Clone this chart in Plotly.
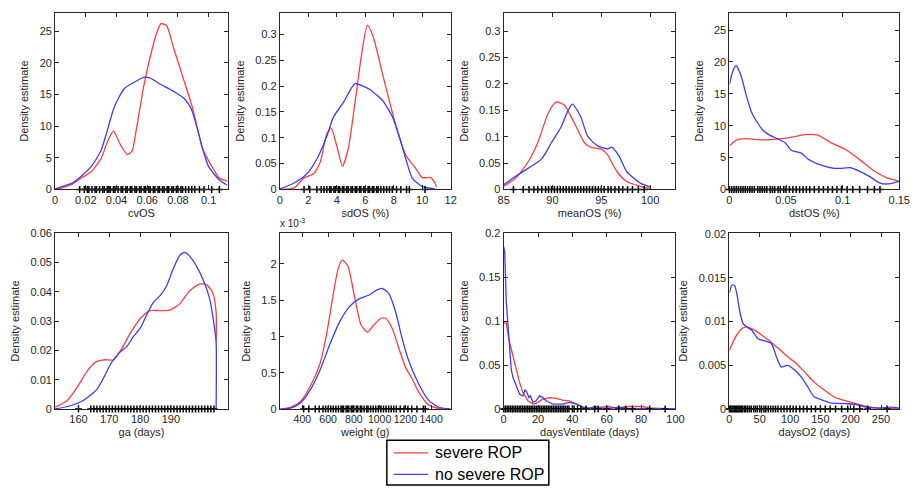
import plotly.graph_objects as go

# ---------------- data ----------------
# cvOS
cvos_sev_x = [0.000, 0.005, 0.011, 0.017, 0.0235, 0.030, 0.034, 0.038, 0.0427, 0.047, 0.050, 0.053, 0.0577, 0.062, 0.066, 0.069, 0.0726, 0.077, 0.083, 0.0897, 0.096, 0.1026, 0.107, 0.112]
cvos_sev_y = [0.0, 0.3, 0.8, 1.8, 2.8, 4.9, 7.5, 9.2, 7.0, 5.5, 6.0, 9.6, 16.3, 21.0, 24.6, 26.2, 25.9, 22.5, 17.9, 12.7, 6.5, 3.4, 1.8, 1.3]
cvos_no_x = [0.000, 0.005, 0.011, 0.017, 0.0235, 0.030, 0.034, 0.0385, 0.045, 0.0534, 0.0577, 0.062, 0.068, 0.077, 0.0844, 0.0887, 0.093, 0.096, 0.100, 0.107, 0.112]
cvos_no_y = [0.1, 0.5, 1.0, 2.1, 3.6, 6.2, 9.3, 13.0, 15.9, 17.2, 17.7, 17.6, 16.7, 15.5, 14.3, 12.7, 9.3, 6.5, 3.6, 1.5, 0.7]
cvos_obs = [0.016, 0.019, 0.021, 0.022, 0.024, 0.026, 0.027, 0.029, 0.031, 0.032, 0.034, 0.035, 0.036, 0.038, 0.039, 0.041, 0.043, 0.044, 0.046, 0.047, 0.049, 0.050, 0.052, 0.053, 0.055, 0.056, 0.058, 0.059, 0.061, 0.062, 0.064, 0.065, 0.067, 0.068, 0.070, 0.071, 0.073, 0.074, 0.076, 0.077, 0.079, 0.080, 0.082, 0.083, 0.085, 0.087, 0.089, 0.091, 0.094, 0.097, 0.102, 0.107]

# sdOS (%)
sdos_sev_x = [0, 1.0, 1.69, 2.38, 2.84, 3.3, 3.6, 4.0, 4.4, 4.8, 5.27, 5.73, 6.15, 6.54, 7.23, 7.92, 8.38, 8.85, 9.54, 10.0, 10.6, 10.9, 11.0]
sdos_sev_y = [0, 0.003, 0.022, 0.031, 0.053, 0.108, 0.119, 0.084, 0.045, 0.078, 0.166, 0.259, 0.318, 0.297, 0.222, 0.147, 0.103, 0.066, 0.041, 0.023, 0.023, 0.0125, 0.005]
sdos_no_x = [0, 1.0, 1.92, 2.6, 3.3, 3.76, 4.46, 5.27, 5.84, 6.3, 7.23, 7.92, 8.38, 8.85, 9.3, 10.0, 10.9]
sdos_no_y = [0.001, 0.0125, 0.031, 0.059, 0.103, 0.14, 0.168, 0.205, 0.200, 0.194, 0.172, 0.14, 0.103, 0.059, 0.022, 0.006, 0.001]
sdos_obs = [1.7, 2.1, 2.6, 2.9, 3.1, 3.3, 3.5, 3.6, 3.8, 3.9, 4.1, 4.2, 4.4, 4.5, 4.7, 4.8, 5.0, 5.1, 5.3, 5.4, 5.6, 5.7, 5.9, 6.0, 6.2, 6.3, 6.5, 6.6, 6.8, 6.9, 7.1, 7.3, 7.5, 7.7, 7.9, 8.2, 8.5, 8.9, 9.1, 10.2]

# meanOS (%)
meanos_sev_x = [85, 86.2, 87.5, 88.5, 89.55, 90.4, 91.2, 92.25, 93.26, 93.9, 94.95, 95.6, 96.6, 97.6, 99, 100]
meanos_sev_y = [0.006, 0.021, 0.052, 0.089, 0.144, 0.166, 0.160, 0.126, 0.089, 0.080, 0.077, 0.067, 0.034, 0.015, 0.006, 0.002]
meanos_no_x = [85, 86.2, 87.5, 88.9, 89.9, 90.9, 91.6, 92.05, 92.9, 93.6, 94.6, 95.6, 96.1, 96.8, 97.6, 99.0, 100]
meanos_no_y = [0.009, 0.0245, 0.040, 0.058, 0.089, 0.119, 0.150, 0.162, 0.138, 0.101, 0.083, 0.077, 0.080, 0.064, 0.034, 0.012, 0.005]
meanos_obs = [86.0, 87.0, 87.6, 88.1, 88.5, 88.9, 89.3, 89.6, 89.9, 90.2, 90.5, 90.8, 91.1, 91.4, 91.7, 92.0, 92.3, 92.6, 92.9, 93.2, 93.5, 93.8, 94.1, 94.4, 94.7, 95.0, 95.3, 95.7, 96.0, 96.4, 96.8, 97.2, 97.7, 98.2, 98.8, 99.4]

# dstOS (%)
dstos_sev_x = [0, 0.0058, 0.0145, 0.029, 0.040, 0.052, 0.0665, 0.078, 0.0896, 0.104, 0.1156, 0.127, 0.139, 0.150]
dstos_sev_y = [6.85, 7.7, 7.96, 7.76, 7.86, 8.1, 8.6, 8.5, 7.35, 6.1, 4.6, 3.0, 1.8, 1.27]
dstos_no_x = [0, 0.0029, 0.0058, 0.010, 0.0145, 0.020, 0.029, 0.0347, 0.043, 0.049, 0.055, 0.0636, 0.069, 0.081, 0.0925, 0.098, 0.107, 0.1156, 0.124, 0.133, 0.140, 0.150]
dstos_no_y = [16.5, 18.5, 19.4, 18.0, 15.0, 11.9, 9.4, 8.6, 7.9, 7.35, 6.1, 5.7, 4.8, 3.8, 3.3, 3.3, 3.4, 2.8, 2.0, 1.0, 0.86, 1.27]
dstos_obs = [0.0, 0.002, 0.004, 0.006, 0.008, 0.010, 0.012, 0.014, 0.016, 0.018, 0.020, 0.022, 0.025, 0.027, 0.029, 0.031, 0.033, 0.036, 0.038, 0.040, 0.043, 0.045, 0.048, 0.050, 0.053, 0.056, 0.059, 0.062, 0.065, 0.068, 0.071, 0.075, 0.079, 0.083, 0.087, 0.091, 0.095, 0.099, 0.104, 0.109, 0.115, 0.122, 0.128, 0.133]

# ga (days)
ga_sev_x = [152.4, 156.3, 159.5, 162.8, 165.5, 168.2, 171.4, 173.5, 176.8, 180.0, 183.2, 186.5, 189.7, 192.9, 196.1, 199.4, 201.5, 203.6, 204.7, 204.7]
ga_sev_y = [0.0006, 0.0028, 0.0073, 0.0129, 0.016, 0.0168, 0.0168, 0.0196, 0.0258, 0.0308, 0.0336, 0.0336, 0.0338, 0.0359, 0.0404, 0.0427, 0.0425, 0.0398, 0.033, 0.023]
ga_no_x = [152.4, 157.4, 161.7, 166.0, 168.2, 170.3, 173.0, 175.7, 177.8, 180.0, 182.1, 184.3, 186.5, 188.6, 190.7, 192.9, 194.5, 196.1, 198.3, 200.4, 202.6, 204.2, 204.7, 204.7]
ga_no_y = [0.0, 0.0011, 0.003, 0.0067, 0.0107, 0.0151, 0.019, 0.0213, 0.0247, 0.0275, 0.032, 0.0364, 0.0387, 0.042, 0.0477, 0.0525, 0.0535, 0.0522, 0.0488, 0.0443, 0.0376, 0.0275, 0.023, 0.0]
ga_obs = [160, 164, 165, 166, 167, 168, 169, 170, 171, 172, 173, 174, 175, 176, 177, 178, 179, 180, 181, 182, 183, 184, 185, 186, 187, 188, 189, 190, 191, 192, 193, 194, 195, 196, 197, 198, 199, 200, 201, 202, 203, 204]

# weight (g)
weight_sev_x = [230, 307, 383, 460, 536, 587, 638, 676, 710, 753, 804, 856, 906, 957, 1009, 1047, 1098, 1149, 1200, 1251, 1302, 1378, 1455, 1550]
weight_sev_y = [0, 0.022e-3, 0.10e-3, 0.31e-3, 0.62e-3, 1.02e-3, 1.56e-3, 1.92e-3, 2.05e-3, 1.97e-3, 1.56e-3, 1.16e-3, 1.06e-3, 1.16e-3, 1.25e-3, 1.25e-3, 1.11e-3, 0.84e-3, 0.58e-3, 0.42e-3, 0.24e-3, 0.06e-3, 0.01e-3, 0]
weight_no_x = [230, 307, 383, 460, 536, 613, 689, 766, 843, 919, 970, 1021, 1072, 1124, 1174, 1225, 1302, 1378, 1455, 1550]
weight_no_y = [0, 0.013e-3, 0.08e-3, 0.26e-3, 0.53e-3, 0.89e-3, 1.20e-3, 1.41e-3, 1.52e-3, 1.57e-3, 1.63e-3, 1.66e-3, 1.59e-3, 1.34e-3, 0.98e-3, 0.67e-3, 0.35e-3, 0.126e-3, 0.027e-3, 0]
weight_obs = [410, 450, 500, 530, 560, 580, 600, 620, 640, 660, 680, 700, 710, 720, 740, 750, 760, 780, 790, 800, 820, 830, 850, 860, 880, 900, 910, 930, 950, 970, 990, 1010, 1030, 1050, 1070, 1090, 1110, 1130, 1160, 1190, 1220, 1250, 1290, 1340, 1355]

# daysVentilate (days)
vent_sev_x = [0, 1.5, 3.1, 5.4, 7.3, 9.3, 11.2, 14.1, 17.0, 18.9, 22.8, 26.6, 30.5, 34.4, 38.2, 42.0, 46.0, 50.0, 57.5, 61.4, 65.0, 73.0, 80.7, 86.5, 100]
vent_sev_y = [0.098, 0.098, 0.0785, 0.060, 0.045, 0.030, 0.0187, 0.0093, 0.0056, 0.0064, 0.0112, 0.013, 0.012, 0.010, 0.0093, 0.0056, 0.002, 0.0008, 0.002, 0.003, 0.001, 0.003, 0.003, 0.0008, 0.0]
vent_no_x = [0, 0.6, 1.5, 2.5, 3.5, 4.4, 5.4, 7.3, 9.3, 11.2, 12.5, 13.5, 14.7, 15.6, 17.0, 18.9, 20.8, 22.8, 24.7, 28.6, 34.4, 38.2, 42.0, 46.0, 49.8, 53.7, 55.6, 62.0, 67.0, 72.0, 80.0, 94.0, 100]
vent_no_y = [0.185, 0.179, 0.123, 0.093, 0.067, 0.045, 0.036, 0.026, 0.0168, 0.015, 0.022, 0.019, 0.013, 0.015, 0.0075, 0.0093, 0.015, 0.013, 0.0093, 0.0056, 0.0056, 0.0075, 0.006, 0.002, 0.001, 0.003, 0.0008, 0.0008, 0.002, 0.001, 0.0008, 0.001, 0.0]
vent_obs = [0, 1, 2, 3, 4, 5, 6, 7, 8, 9, 10, 11, 12, 13, 14, 15, 16, 17, 18, 19, 20, 21, 22, 23, 24, 25, 26, 27, 28, 29, 30, 31, 32, 33, 34, 35, 36, 37, 38, 40, 41, 43, 45, 48, 53, 55, 60, 67, 71, 75, 85, 94]

# daysO2 (days)
o2_sev_x = [0, 9.7, 20.5, 28.6, 42, 58.4, 74.6, 90.8, 107, 123, 139.5, 155.7, 172, 188, 204, 226, 247.6, 280]
o2_sev_y = [0.0067, 0.0082, 0.0092, 0.0094, 0.0090, 0.0082, 0.0073, 0.0063, 0.0054, 0.0043, 0.0031, 0.0022, 0.0014, 0.0010, 0.0007, 0.0003, 0.0001, 0.0]
o2_no_x = [0, 4.3, 8.6, 12.4, 17.8, 23.2, 28.6, 36.8, 47.6, 58.4, 69.2, 77.3, 85.4, 96.2, 107, 118, 128.6, 139.5, 150.3, 166.5, 193.5, 209.7, 226, 247.6, 266, 280]
o2_no_y = [0.0133, 0.0142, 0.0141, 0.0131, 0.0109, 0.0097, 0.0094, 0.0090, 0.0080, 0.0078, 0.0075, 0.0060, 0.0048, 0.0050, 0.0045, 0.0037, 0.0026, 0.0014, 0.0011, 0.0007, 0.0006, 0.0005, 0.0002, 0.0001, 0.0002, 0.0001]
o2_obs = [0, 2, 4, 6, 8, 10, 12, 14, 16, 18, 20, 22, 25, 27, 30, 33, 36, 40, 43, 46, 50, 53, 57, 60, 64, 68, 72, 76, 80, 85, 90, 95, 100, 105, 110, 116, 122, 128, 135, 142, 150, 158, 166, 175, 185, 195, 205, 215, 228, 260]

# axis labels / ticks
x_titles = ["cvOS", "sdOS (%)", "meanOS (%)", "dstOS (%)", "ga (days)", "weight (g)", "daysVentilate (days)", "daysO2 (days)"]
x_ticks = [
    [0, 0.02, 0.04, 0.06, 0.08, 0.1],
    [0, 2, 4, 6, 8, 10, 12],
    [85, 90, 95, 100],
    [0, 0.05, 0.1, 0.15],
    [160, 170, 180, 190],
    [400, 600, 800, 1000, 1200, 1400],
    [0, 20, 40, 60, 80, 100],
    [0, 50, 100, 150, 200, 250],
]
y_ticks = [
    [0, 5, 10, 15, 20, 25],
    [0, 0.05, 0.1, 0.15, 0.2, 0.25, 0.3],
    [0, 0.05, 0.1, 0.15, 0.2, 0.25, 0.3],
    [0, 5, 10, 15, 20, 25],
    [0, 0.01, 0.02, 0.03, 0.04, 0.05, 0.06],
    [0, 0.5e-3, 1e-3, 1.5e-3, 2e-3],
    [0, 0.05, 0.1, 0.15, 0.2],
    [0, 0.005, 0.01, 0.015, 0.02],
]
y_tick_text = [
    ["0", "5", "10", "15", "20", "25"],
    ["0", "0.05", "0.1", "0.15", "0.2", "0.25", "0.3"],
    ["0", "0.05", "0.1", "0.15", "0.2", "0.25", "0.3"],
    ["0", "5", "10", "15", "20", "25"],
    ["0", "0.01", "0.02", "0.03", "0.04", "0.05", "0.06"],
    ["0", "0.5", "1", "1.5", "2"],
    ["0", "0.05", "0.1", "0.15", "0.2"],
    ["0", "0.005", "0.01", "0.015", "0.02"],
]
legend_names = ["severe ROP", "no severe ROP"]

# ---------------- styling / layout ----------------
W, H = 923, 494
RED = "rgb(255,60,60)"
BLUE = "rgb(60,60,255)"
INK = "#262626"
FONT = "Liberation Sans"

panels = [
    (cvos_sev_x, cvos_sev_y, cvos_no_x, cvos_no_y, cvos_obs),
    (sdos_sev_x, sdos_sev_y, sdos_no_x, sdos_no_y, sdos_obs),
    (meanos_sev_x, meanos_sev_y, meanos_no_x, meanos_no_y, meanos_obs),
    (dstos_sev_x, dstos_sev_y, dstos_no_x, dstos_no_y, dstos_obs),
    (ga_sev_x, ga_sev_y, ga_no_x, ga_no_y, ga_obs),
    (weight_sev_x, weight_sev_y, weight_no_x, weight_no_y, weight_obs),
    (vent_sev_x, vent_sev_y, vent_no_x, vent_no_y, vent_obs),
    (o2_sev_x, o2_sev_y, o2_no_x, o2_no_y, o2_obs),
]
x_ranges = [[0, 0.1125], [0, 12], [85, 102.6], [0, 0.15], [152.4, 208.5], [225, 1552], [0, 100], [0, 280]]
y_ranges = [[0, 27.9], [0, 0.342], [0, 0.335], [0, 27.7], [0, 0.06], [0, 2.42e-3], [0, 0.2], [0, 0.0201]]
col_px = [(50, 226), (279, 453), (507, 682), (737, 910)]
row_px = [(7, 188), (233, 413)]
shapes_linear = {6}
colors = [RED, BLUE]

fig = go.Figure()
layout = dict(
    width=W, height=H,
    margin=dict(l=0, r=0, t=0, b=0),
    paper_bgcolor="white", plot_bgcolor="white",
    font=dict(family=FONT, size=11, color=INK),
    showlegend=False,
)

for i, (sx, sy, nx, ny, obs) in enumerate(panels):
    k = "" if i == 0 else str(i + 1)
    xa, ya = "x" + k, "y" + k
    shape = "linear" if i in shapes_linear else "spline"
    fig.add_trace(go.Scatter(x=sx, y=sy, xaxis=xa, yaxis=ya, mode="lines",
                             line=dict(color=RED, width=1.3, shape=shape, smoothing=0.6),
                             name=legend_names[0]))
    fig.add_trace(go.Scatter(x=nx, y=ny, xaxis=xa, yaxis=ya, mode="lines",
                             line=dict(color=BLUE, width=1.3, shape=shape, smoothing=0.6),
                             name=legend_names[1]))
    fig.add_trace(go.Scatter(x=obs, y=[0] * len(obs), xaxis=xa, yaxis=ya, mode="markers",
                             marker=dict(symbol="cross-thin", size=5, color="black",
                                         line=dict(color="black", width=1.5)),
                             cliponaxis=False, hoverinfo="skip"))
    c0, c1 = col_px[i % 4]
    r0, r1 = row_px[i // 4]
    axis_common = dict(showline=True, linecolor=INK, linewidth=1, mirror="ticks",
                       ticks="inside", ticklen=4, tickcolor=INK, showgrid=False,
                       zeroline=False, tickangle=0,
                       tickfont=dict(family=FONT, size=11, color=INK))
    layout["xaxis" + k] = dict(axis_common, domain=[c0 / W, c1 / W], range=x_ranges[i],
                               anchor=ya, tickvals=x_ticks[i],
                               ticktext=[f"{v:g}" for v in x_ticks[i]],
                               title=dict(text=x_titles[i], standoff=4,
                                          font=dict(family=FONT, size=11, color=INK)))
    layout["yaxis" + k] = dict(axis_common, domain=[1 - r1 / H, 1 - r0 / H], range=y_ranges[i],
                               anchor=xa, tickvals=y_ticks[i], ticktext=y_tick_text[i],
                               title=dict(text="Density estimate", standoff=8,
                                          font=dict(family=FONT, size=11, color=INK)))
layout["xaxis6"]["tickfont"] = dict(family=FONT, size=10.5, color=INK)

# legend box (drawn in paper coordinates)
box = dict(l=388, r=553, t=445, b=491)
rows_y = [458, 480]
shapes = [dict(type="rect", xref="paper", yref="paper",
               x0=box["l"] / W, x1=box["r"] / W, y0=1 - box["b"] / H, y1=1 - box["t"] / H,
               line=dict(color="black", width=1.5), fillcolor="white", layer="above")]
annotations = []
for name, col, yy in zip(legend_names, colors, rows_y):
    shapes.append(dict(type="line", xref="paper", yref="paper",
                       x0=395 / W, x1=430 / W, y0=1 - yy / H, y1=1 - yy / H,
                       line=dict(color=col, width=1.3)))
    annotations.append(dict(text=name, xref="paper", yref="paper", x=435 / W, y=1 - yy / H,
                            xanchor="left", yanchor="middle", showarrow=False,
                            font=dict(family=FONT, size=16, color="black")))
annotations.append(dict(text="x 10<sup>-3</sup>", xref="paper", yref="paper",
                        x=277 / W, y=1 - 231 / H, xanchor="left", yanchor="bottom",
                        showarrow=False, font=dict(family=FONT, size=10, color=INK)))
layout["shapes"] = shapes
layout["annotations"] = annotations

fig.update_layout(**layout)
fig.write_html("out.html")
